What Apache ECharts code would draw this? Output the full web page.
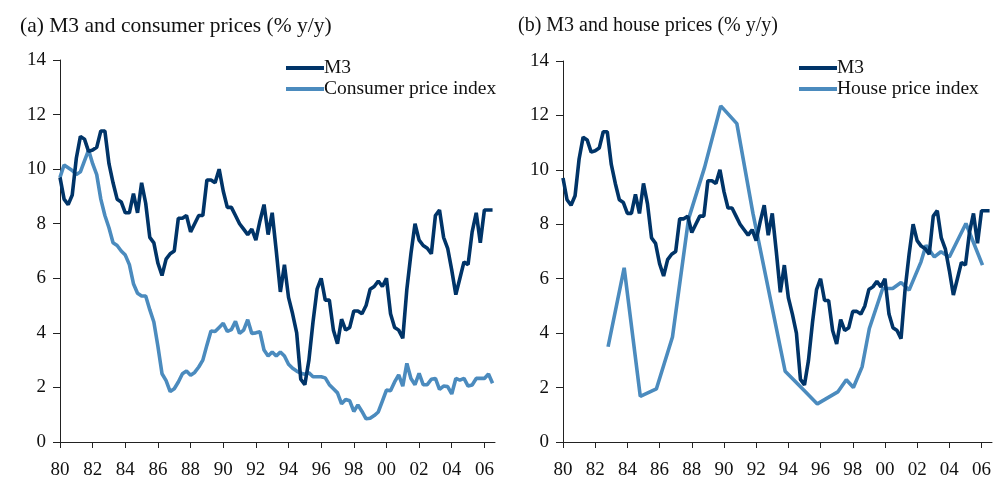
<!DOCTYPE html>
<html>
<head>
<meta charset="utf-8">
<script src="https://cdn.jsdelivr.net/npm/echarts@6/dist/echarts.min.js"></script>
<style>
  html, body { margin: 0; padding: 0; background: #fff; }
  #chart { width: 997px; height: 482px; }
</style>
</head>
<body>
<div id="chart"></div>
<script>
// quarterly series, first quarter 1980
const startYear = 1980;
const m3 = [
  9.7, 8.9, 8.7, 9.05, 10.4, 11.2, 11.1, 10.65, 10.7, 10.8, 11.4, 11.4,
  10.2, 9.5, 8.9, 8.8, 8.4, 8.4, 9.1, 8.4, 9.5, 8.75, 7.5, 7.3,
  6.55, 6.1, 6.7, 6.9, 7.0, 8.2, 8.2, 8.3, 7.7, 8.0, 8.3, 8.3,
  9.6, 9.6, 9.5, 10.0, 9.2, 8.6, 8.6, 8.3, 8.0, 7.8, 7.6, 7.8,
  7.4, 8.1, 8.7, 7.6, 8.4, 7.0, 5.5, 6.5, 5.3, 4.7, 4.0, 2.3,
  2.1, 3.0, 4.4, 5.6, 6.0, 5.2, 5.2, 4.1, 3.6, 4.5, 4.1, 4.2,
  4.8, 4.8, 4.7, 5.0, 5.6, 5.7, 5.9, 5.7, 6.0, 4.7, 4.2, 4.1,
  3.8, 5.6, 6.9, 8.0, 7.4, 7.2, 7.1, 6.9, 8.3, 8.5, 7.5, 7.1,
  6.3, 5.4, 6.0, 6.6, 6.5, 7.7, 8.4, 7.3, 8.5, 8.5, 8.5
];
const cpi = [
  9.7, 10.15, 10.05, 9.95, 9.8, 9.9, 10.3, 10.7, 10.2, 9.8, 8.9, 8.3,
  7.85, 7.3, 7.2, 7.0, 6.85, 6.5, 5.8, 5.45, 5.35, 5.35, 4.85, 4.4,
  3.5, 2.5, 2.25, 1.85, 1.95, 2.2, 2.5, 2.6, 2.45, 2.55, 2.75, 3.0,
  3.55, 4.07, 4.05, 4.2, 4.35, 4.05, 4.12, 4.42, 3.98, 4.1, 4.48, 3.98,
  4.0, 4.04, 3.37, 3.15, 3.3, 3.15, 3.3, 3.15, 2.85, 2.7, 2.6, 2.52,
  2.48, 2.54, 2.39, 2.39, 2.39, 2.35, 2.1, 1.95, 1.8, 1.4, 1.56, 1.51,
  1.12, 1.36, 1.12, 0.85, 0.87, 0.97, 1.1, 1.5, 1.9, 1.88, 2.2, 2.46,
  2.05, 2.88, 2.33, 2.1, 2.52, 2.1, 2.1, 2.3, 2.33, 1.93, 2.05, 2.03,
  1.76, 2.33, 2.27, 2.33, 2.05, 2.09, 2.33, 2.33, 2.33, 2.49, 2.15
];
// house prices: irregular dates
const hpiYears = [
  1982.8, 1983.8, 1984.8, 1985.8, 1986.8, 1987.8, 1988.8, 1989.8, 1990.8,
  1991.8, 1992.8, 1993.8, 1994.8, 1995.8, 1997.07, 1997.6, 1998.04, 1998.58,
  1999.03, 1999.86, 2000.48, 2001.0, 2001.5, 2002.24, 2002.55, 2003.07,
  2003.48, 2004.0, 2005.03, 2006.06
];
const hpi = [
  3.5, 6.4, 1.68, 1.95, 3.86, 8.2, 10.1, 12.35, 11.7,
  8.4, 5.5, 2.6, 2.0, 1.4, 1.84, 2.29, 2.0, 2.76,
  4.17, 5.64, 5.64, 5.86, 5.58, 6.62, 7.23, 6.8,
  6.99, 6.8, 8.03, 6.5
];
const yearTicks = [1980, 1982, 1984, 1986, 1988, 1990, 1992, 1994, 1996, 1998, 2000, 2002, 2004, 2006];

const dark = '#003468';
const light = '#4b8bbe';
const font = 'Liberation Serif';

function quarterly(vals) {
  return vals.map((v, i) => [startYear + i * 0.25, v]);
}

function xAxis(idx) {
  return {
    type: 'value', gridIndex: idx, min: 1980, max: 2006.65, interval: 2,
    axisLine: { lineStyle: { color: '#222', width: 1 } },
    axisTick: { show: true, length: 6, customValues: yearTicks, lineStyle: { color: '#222' } },
    axisLabel: {
      customValues: yearTicks, margin: 19, color: '#111', fontFamily: font, fontSize: 19,
      formatter: v => String(Math.round(v) % 100).padStart(2, '0')
    },
    splitLine: { show: false }
  };
}
function yAxis(idx) {
  return {
    type: 'value', gridIndex: idx, min: 0, max: 14, interval: 2,
    axisLine: { show: true, lineStyle: { color: '#222', width: 1 } },
    axisTick: { show: true, length: 7, lineStyle: { color: '#222' } },
    axisLabel: { margin: 14, color: '#111', fontFamily: font, fontSize: 19 },
    splitLine: { show: false }
  };
}
function line(name, data, color, idx) {
  return {
    name: name, type: 'line', xAxisIndex: idx, yAxisIndex: idx,
    data: data, showSymbol: false, symbol: 'none',
    lineStyle: { color: color, width: 3.6 }, itemStyle: { color: color },
    animation: false
  };
}

const chart = echarts.init(document.getElementById('chart'));
chart.setOption({
  backgroundColor: '#fff',
  animation: false,
  title: [
    { text: '(a) M3 and consumer prices (% y/y)', left: 15, top: 10,
      textStyle: { fontFamily: font, fontSize: 21.5, fontWeight: 'normal', color: '#111' } },
    { text: '(b) M3 and house prices (% y/y)', left: 513, top: 11,
      textStyle: { fontFamily: font, fontSize: 20, fontWeight: 'normal', color: '#111' } }
  ],
  legend: [
    { data: ['M3', 'Consumer price index'], orient: 'vertical', left: 281, top: 53,
      icon: 'rect', itemWidth: 38, itemHeight: 4, itemGap: 1, selectedMode: false,
      textStyle: { fontFamily: font, fontSize: 19.5, color: '#111', padding: [0, 0, 0, -5] } },
    { data: ['M3', 'House price index'], orient: 'vertical', left: 794, top: 53,
      icon: 'rect', itemWidth: 38, itemHeight: 4, itemGap: 1, selectedMode: false,
      textStyle: { fontFamily: font, fontSize: 19.5, color: '#111', padding: [0, 0, 0, -5] } }
  ],
  grid: [
    { left: 60, top: 60, width: 435, height: 382 },
    { left: 563, top: 61, width: 429, height: 381 }
  ],
  xAxis: [xAxis(0), xAxis(1)],
  yAxis: [yAxis(0), yAxis(1)],
  series: [
    line('Consumer price index', quarterly(cpi), light, 0),
    line('M3', quarterly(m3), dark, 0),
    line('House price index', hpiYears.map((y, i) => [y, hpi[i]]), light, 1),
    line('M3', quarterly(m3), dark, 1)
  ]
});
</script>
</body>
</html>
